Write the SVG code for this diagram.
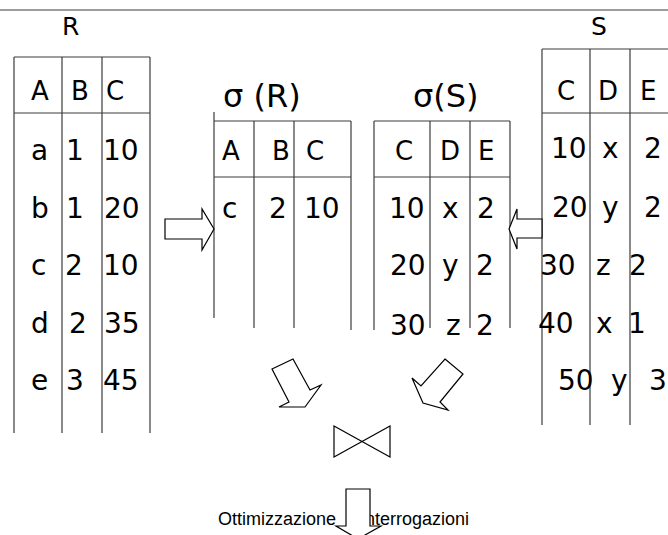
<svg xmlns="http://www.w3.org/2000/svg" width="668" height="535" viewBox="0 0 668 535">
<style>
.ln{stroke:#3c3c3c;stroke-width:1.2;fill:none}
.t{font-family:"DejaVu Sans",Verdana,sans-serif;font-size:28px;fill:#000}
.h{font-family:"DejaVu Sans",Verdana,sans-serif;font-size:26px;fill:#000}
.ti{font-family:"DejaVu Sans",Verdana,sans-serif;font-size:32px;fill:#000}
.lb{font-family:"DejaVu Sans",Verdana,sans-serif;font-size:25px;fill:#000}
.ar{fill:#fff;stroke:#000;stroke-width:1.2;stroke-linejoin:miter}
.ft{font-family:"Liberation Sans",Arial,sans-serif;font-size:18px;fill:#000}
</style>
<rect width="668" height="535" fill="#fff"/>
<line class="ln" x1="0" y1="10" x2="668" y2="10"/>

<g id="footer">
<text class="ft" y="525"><tspan x="218">Ottimizzazione</tspan><tspan x="360">Interrogazioni</tspan></text>
</g>

<g id="tableR">
<text class="lb" x="62" y="35">R</text>
<path class="ln" d="M14,57H150M14,113H150M14,57V433M62,57V433M102,57V433M150,57V433"/>
<text class="h" x="31" y="100">A</text><text class="h" x="71" y="100">B</text><text class="h" x="106" y="100">C</text>
<text class="t" x="31" y="160">a</text><text class="t" x="66" y="160">1</text><text class="t" x="103" y="160">10</text>
<text class="t" x="31" y="218">b</text><text class="t" x="66" y="218">1</text><text class="t" x="104" y="218">20</text>
<text class="t" x="31" y="275">c</text><text class="t" x="65" y="275">2</text><text class="t" x="103" y="275">10</text>
<text class="t" x="31" y="333">d</text><text class="t" x="69" y="333">2</text><text class="t" x="104" y="333">35</text>
<text class="t" x="31" y="390">e</text><text class="t" x="66" y="390">3</text><text class="t" x="103" y="390">45</text>
</g>

<g id="sigmaR">
<text class="ti" x="223" y="107">σ (R)</text>
<path class="ln" d="M214,121H351M214,177H351M214,112V318M254,121V328M294,121V328M351,121V330"/>
<text class="h" x="222" y="160">A</text><text class="h" x="272" y="160">B</text><text class="h" x="306" y="160">C</text>
<text class="t" x="222" y="218">c</text><text class="t" x="269" y="218">2</text><text class="t" x="304" y="218">10</text>
</g>

<g id="sigmaS">
<text class="ti" x="413" y="107">σ(S)</text>
<path class="ln" d="M374,121H510M374,177H510M374,121V330M430,121V328M470,121V328M510,121V328"/>
<text class="h" x="395" y="160">C</text><text class="h" x="440" y="160">D</text><text class="h" x="478" y="160">E</text>
<text class="t" x="389" y="218">10</text><text class="t" x="442" y="218">x</text><text class="t" x="477" y="218">2</text>
<text class="t" x="390" y="275">20</text><text class="t" x="442" y="275">y</text><text class="t" x="476" y="275">2</text>
<text class="t" x="390" y="335">30</text><text class="t" x="446" y="335">z</text><text class="t" x="476" y="335">2</text>
</g>

<g id="tableS">
<text class="lb" x="591" y="35">S</text>
<path class="ln" d="M542,49H668M542,113H668M542,49V425M590,49V425M630,49V425"/>
<text class="h" x="557" y="100">C</text><text class="h" x="598" y="100">D</text><text class="h" x="640" y="100">E</text>
<text class="t" x="551" y="158">10</text><text class="t" x="602" y="158">x</text><text class="t" x="644" y="158">2</text>
<text class="t" x="552" y="217">20</text><text class="t" x="602" y="217">y</text><text class="t" x="644" y="217">2</text>
<text class="t" x="540" y="275">30</text><text class="t" x="596" y="275">z</text><text class="t" x="629" y="275">2</text>
<text class="t" x="538" y="333">40</text><text class="t" x="596" y="333">x</text><text class="t" x="628" y="333">1</text>
<text class="t" x="558" y="390">50</text><text class="t" x="611" y="390">y</text><text class="t" x="649" y="390">3</text>
</g>

<g id="join">
<path class="ar" d="M334,426V457L390,426V457Z"/>
</g>

<g id="connectors">
<polygon class="ar" points="165,219 202,219 202,209 214,229 202,250 202,239 165,239"/>
<polygon class="ar" points="542,219 517,219 517,209 509,229 517,249 517,238 542,238"/>
<polygon class="ar" points="272,369 293,359 310,390 321,385 305,407 279,407 289,402"/>
<polygon class="ar" points="445,359 463,374 440,402 448,410 423,403 412,378 421,386"/>
<polygon class="ar" points="346,489 370,489 370,526 381,526 358,539 336,526 346,526"/>
</g>
</svg>
